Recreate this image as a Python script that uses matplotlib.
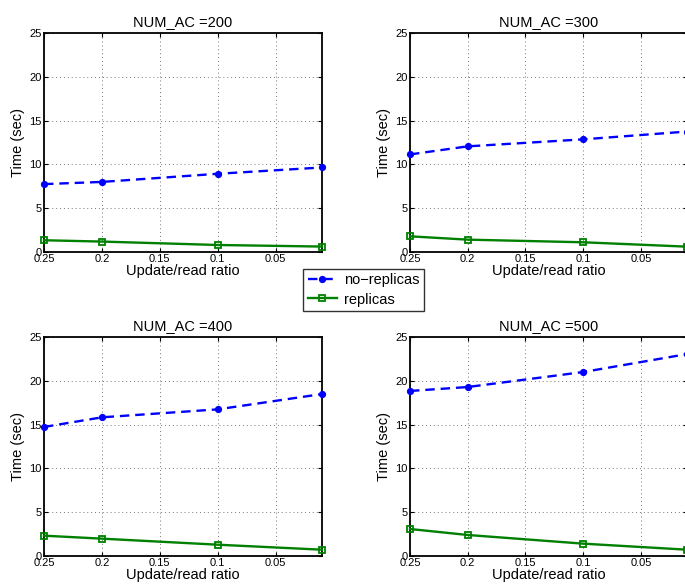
import matplotlib
matplotlib.use("Agg")
import matplotlib.pyplot as plt
from matplotlib.lines import Line2D

plt.rcParams['font.family'] = ['Liberation Sans', 'DejaVu Sans']

# Update/read ratio at which each run was measured
ratios = [0.25, 0.2, 0.1, 0.01]
x_ticks = [0.25, 0.2, 0.15, 0.1, 0.05]
x_tick_labels = ['0.25', '0.2', '0.15', '0.1', '0.05']
y_ticks = [0, 5, 10, 15, 20, 25]

num_ac = [200, 300, 400, 500]

# Execution time (sec) for each NUM_AC setting
no_replicas_200 = [7.75, 8.0, 8.93, 9.65]
no_replicas_300 = [11.14, 12.06, 12.86, 13.75]
no_replicas_400 = [14.73, 15.83, 16.74, 18.49]
no_replicas_500 = [18.84, 19.29, 21.0, 23.05]

replicas_200 = [1.34, 1.19, 0.8, 0.62]
replicas_300 = [1.79, 1.41, 1.11, 0.61]
replicas_400 = [2.32, 1.98, 1.29, 0.72]
replicas_500 = [3.08, 2.40, 1.41, 0.72]

no_replicas = [no_replicas_200, no_replicas_300, no_replicas_400, no_replicas_500]
replicas = [replicas_200, replicas_300, replicas_400, replicas_500]

W, H = 685, 587
fig = plt.figure(figsize=(W / 100, H / 100), dpi=100)

# panel boxes in pixels: left, top, right, bottom
boxes = [(44, 33, 322, 252), (410, 33, 687, 252),
         (44, 337, 322, 556), (410, 337, 687, 556)]

blue = (0, 0, 1)
green = (0, 0.5, 0)
dash = (0, (4, 2.5))

for i, (l, t, r, b) in enumerate(boxes):
    ax = fig.add_axes([l / W, 1 - b / H, (r - l) / W, (b - t) / H])
    ax.plot(ratios, no_replicas[i], color=blue, ls=dash, lw=1.7, marker='o',
            ms=4.2, mfc=blue, mec=blue, clip_on=False, zorder=3)
    ax.plot(ratios, replicas[i], '-', color=green, lw=1.7, marker='s',
            ms=4, mfc='none', mec=green, mew=1.3, clip_on=False, zorder=3)
    ax.set_xlim(0.25, 0.01)
    ax.set_ylim(0, 25)
    ax.set_xticks(x_ticks)
    ax.set_xticklabels(x_tick_labels)
    ax.set_yticks(y_ticks)
    ax.tick_params(direction='in', top=True, right=True, labelsize=8,
                   length=3, width=0.8, pad=1.5)
    ax.grid(True, linestyle=(0, (1, 3)), color='#777777', lw=0.7)
    for s in ax.spines.values():
        s.set_linewidth(1.3)
    ax.set_title(f'NUM_AC ={num_ac[i]}', fontsize=10.5, pad=5)
    ax.set_xlabel('Update/read ratio', fontsize=10.5, labelpad=0)
    ax.set_ylabel('Time (sec)', fontsize=10.5, labelpad=3)

handles = [
    Line2D([], [], ls=dash, color=blue, lw=1.7, marker='o', ms=4.2, mfc=blue, mec=blue),
    Line2D([], [], ls='-', color=green, lw=1.7, marker='s', ms=4, mfc='none', mec=green, mew=1.3),
]
leg = fig.legend(handles, ['no\u2212replicas', 'replicas'],
                 loc='center', bbox_to_anchor=(363.5 / W, 1 - 290 / H),
                 fontsize=10.5, frameon=True, fancybox=False, edgecolor='black',
                 handlelength=2.0, handletextpad=0.5, borderpad=0.3,
                 labelspacing=0.35, borderaxespad=0)
leg.get_frame().set_linewidth(1.0)

fig.savefig('out.png', dpi=100)
